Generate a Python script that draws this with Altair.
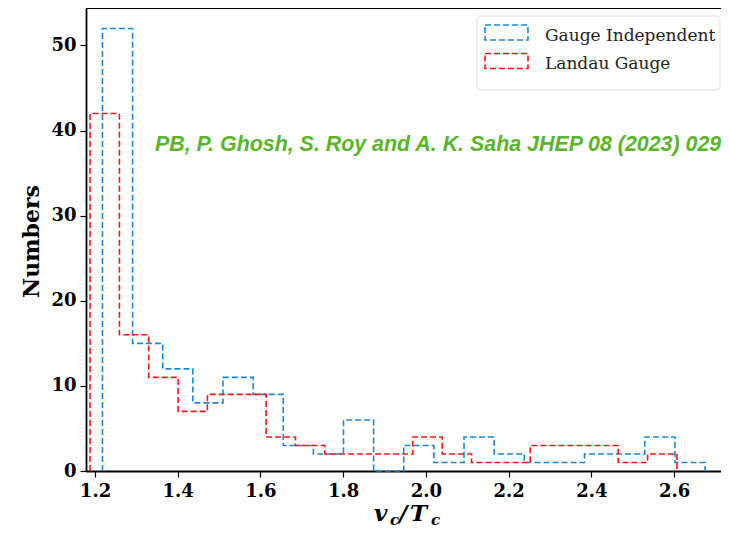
import altair as alt
import pandas as pd

# ---------------- data ----------------
series = ["Gauge Independent", "Landau Gauge"]
colors = ["#1b87d6", "#ff1414"]

blue_start, blue_width = 1.218, 0.07285
red_start, red_width = 1.188, 0.07095

blue_counts = [52, 15, 12, 8, 11, 9, 3, 2, 6, 0, 3, 1, 4, 2, 1, 1, 2, 2, 4, 1]
red_counts = [42, 16, 11, 7, 9, 9, 4, 3, 2, 2, 2, 4, 2, 1, 1, 3, 3, 3, 1, 2]

x_ticks = [1.2, 1.4, 1.6, 1.8, 2.0, 2.2, 2.4, 2.6]
y_ticks = [0, 10, 20, 30, 40, 50]
x_domain = [1.1782, 2.7135]
y_domain = [0, 54.4]

annotation = "PB, P. Ghosh, S. Roy and A. K. Saha JHEP 08 (2023) 029"


def step_rows(name, start, width, counts):
    edges = [round(start + i * width, 5) for i in range(len(counts) + 1)]
    xs = [edges[0]] + edges[:-1] + [edges[-1]]
    ys = [0] + counts + [0]
    return [{"x": x, "y": y, "series": name, "i": k} for k, (x, y) in enumerate(zip(xs, ys))]


rows = step_rows(series[0], blue_start, blue_width, blue_counts) + \
    step_rows(series[1], red_start, red_width, red_counts)
df = pd.DataFrame(rows)

W, H = 635, 463

lines = alt.Chart(df).mark_line(
    interpolate="step-after", strokeDash=[6, 3], strokeWidth=1.6
).encode(
    x=alt.X("x:Q", scale=alt.Scale(domain=x_domain, nice=False, zero=False),
            axis=alt.Axis(values=x_ticks, format=".1f", title=None, grid=False,
                          labelPadding=5, tickSize=6)),
    y=alt.Y("y:Q", scale=alt.Scale(domain=y_domain, nice=False),
            axis=alt.Axis(values=y_ticks, format="d", title="Numbers", grid=False,
                          labelPadding=4, tickSize=6,
                          titleFont="DejaVu Serif", titleFontSize=22,
                          titleFontWeight="bold", titleColor="black",
                          titleX=-48, titleY=233, titleAngle=270,
                          titleBaseline="alphabetic", titleAlign="center")),
    color=alt.Color("series:N", scale=alt.Scale(domain=series, range=colors), legend=None),
    order="i:Q",
)

dummy = pd.DataFrame({"d": [0]})
layers = [lines]

# top spine
layers.append(
    alt.Chart(dummy).mark_rule(color="black", strokeWidth=1.8).encode(
        x=alt.value(0), x2=alt.value(W), y=alt.value(0))
)

# legend box
layers.append(
    alt.Chart(dummy).mark_rect(
        fill="white", fillOpacity=0.85, stroke="#dddddd", strokeWidth=1, cornerRadius=4
    ).encode(x=alt.value(391), x2=alt.value(634), y=alt.value(8), y2=alt.value(82))
)
for k, (name, col) in enumerate(zip(series, colors)):
    y0 = 17 + k * 28.5
    layers.append(
        alt.Chart(dummy).mark_rect(
            fillOpacity=0, fill="white", stroke=col, strokeWidth=1.6, strokeDash=[6, 3]
        ).encode(x=alt.value(399), x2=alt.value(442), y=alt.value(y0), y2=alt.value(y0 + 15))
    )
    layers.append(
        alt.Chart(dummy).mark_text(
            text=name, font="DejaVu Serif", fontSize=17, color="#222222",
            align="left", baseline="alphabetic"
        ).encode(x=alt.value(459), y=alt.value(y0 + 15.5))
    )

# annotation
layers.append(
    alt.Chart(dummy).mark_text(
        text=annotation, font="Liberation Sans", fontSize=21.4, fontWeight="bold",
        fontStyle="italic", color="#5ab52a", align="left", baseline="alphabetic"
    ).encode(x=alt.value(69), y=alt.value(143))
)

# x-axis title  v_c / T_c
title_parts = [("v", 288, 513, 23), ("c", 304, 517, 15), ("/", 313, 513, 23),
               ("T", 324, 513, 23), ("c", 345, 517, 15)]
for txt, px, py, fs in title_parts:
    layers.append(
        alt.Chart(dummy).mark_text(
            text=txt, font="DejaVu Serif", fontSize=fs, fontWeight="bold",
            fontStyle="italic", color="black", align="left", baseline="alphabetic"
        ).encode(x=alt.value(px), y=alt.value(py))
    )

chart = alt.layer(*layers).properties(
    width=W, height=H, autosize="none",
    padding={"left": 78, "top": 0, "right": 0, "bottom": 59},
).configure_view(
    stroke=None
).configure_axis(
    domain=True, domainColor="black", domainWidth=1.8,
    labelFont="DejaVu Serif", labelFontSize=18, labelFontWeight="bold",
    labelColor="black", tickColor="black", tickWidth=1.2
)

chart.save("out.html", embed_options={"renderer": "svg", "actions": False})
